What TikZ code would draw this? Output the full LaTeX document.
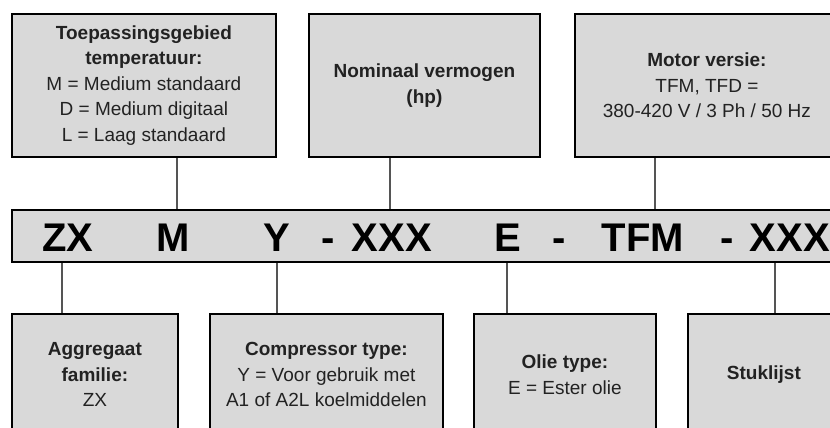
\documentclass[tikz,border=0pt]{standalone}
\usepackage{fontspec}
\setmainfont{Liberation Sans}
\definecolor{boxfill}{HTML}{D9D9D9}
\definecolor{txt}{HTML}{222222}
\definecolor{conn}{HTML}{555555}
\begin{document}
\begin{tikzpicture}[x=1pt,y=-1pt,
  infobox/.style={draw=black,line width=1.8pt,fill=boxfill,inner sep=0pt,anchor=north west,
    align=center,text=txt,font=\fontsize{19}{25.5}\selectfont},
  codebar/.style={draw=black,line width=1.8pt,fill=boxfill,inner sep=0pt,anchor=north west},
  codetext/.style={anchor=base,font=\fontsize{40}{40}\selectfont\bfseries,text=black,inner sep=0pt},
  link/.style={draw=conn,line width=1.2pt}]
\clip (0,0) rectangle (830,428);
\useasboundingbox (0,0) rectangle (830,428);
% top boxes
\node[infobox,minimum width=264pt,minimum height=143pt] (t1) at (11,13)
  {\textbf{Toepassingsgebied}\\\textbf{temperatuur:}\\M = Medium standaard\\D = Medium digitaal\\L = Laag standaard};
\node[infobox,minimum width=231pt,minimum height=143pt] (t2) at (308,13)
  {\textbf{Nominaal vermogen}\\\textbf{(hp)}};
\node[infobox,minimum width=264pt,minimum height=143pt] (t3) at (574,13)
  {\textbf{Motor versie:}\\TFM, TFD =\\380-420 V / 3 Ph / 50 Hz};
% code bar
\node[codebar,minimum width=840pt,minimum height=52pt] (bar) at (11,209) {};
\node[codetext] (cZX) at (68,251) {ZX};
\node[codetext] (cM) at (173,251) {M};
\node[codetext] (cY) at (277,251) {Y};
\node[codetext] (d1) at (328,251) {-};
\node[codetext] (cP) at (392,251) {XXX};
\node[codetext] (cE) at (508,251) {E};
\node[codetext] (d2) at (559,251) {-};
\node[codetext] (cT) at (643,251) {TFM};
\node[codetext] (d3) at (727,251) {-};
\node[codetext] (cB) at (790,251) {XXX};
% bottom boxes
\node[infobox,minimum width=166pt,minimum height=122pt] (b1) at (11,313)
  {\textbf{Aggregaat}\\\textbf{familie:}\\ZX};
\node[infobox,minimum width=233pt,minimum height=122pt] (b2) at (209,313)
  {\textbf{Compressor type:}\\Y = Voor gebruik met\\A1 of A2L koelmiddelen};
\node[infobox,minimum width=182pt,minimum height=122pt] (b3) at (473,313)
  {\textbf{Olie type:}\\E = Ester olie};
\node[infobox,minimum width=152pt,minimum height=122pt] (b4) at (687,313)
  {\textbf{Stuklijst}};
% connector x positions
\coordinate (kM) at (177,0);
\coordinate (kP) at (390,0);
\coordinate (kT) at (655,0);
\coordinate (kZX) at (62,0);
\coordinate (kY) at (277,0);
\coordinate (kE) at (507,0);
\coordinate (kB) at (775,0);
\draw[link] (t1.south -| kM) -- (bar.north -| kM);
\draw[link] (t2.south -| kP) -- (bar.north -| kP);
\draw[link] (t3.south -| kT) -- (bar.north -| kT);
\draw[link] (bar.south -| kZX) -- (b1.north -| kZX);
\draw[link] (bar.south -| kY) -- (b2.north -| kY);
\draw[link] (bar.south -| kE) -- (b3.north -| kE);
\draw[link] (bar.south -| kB) -- (b4.north -| kB);
\end{tikzpicture}
\end{document}
